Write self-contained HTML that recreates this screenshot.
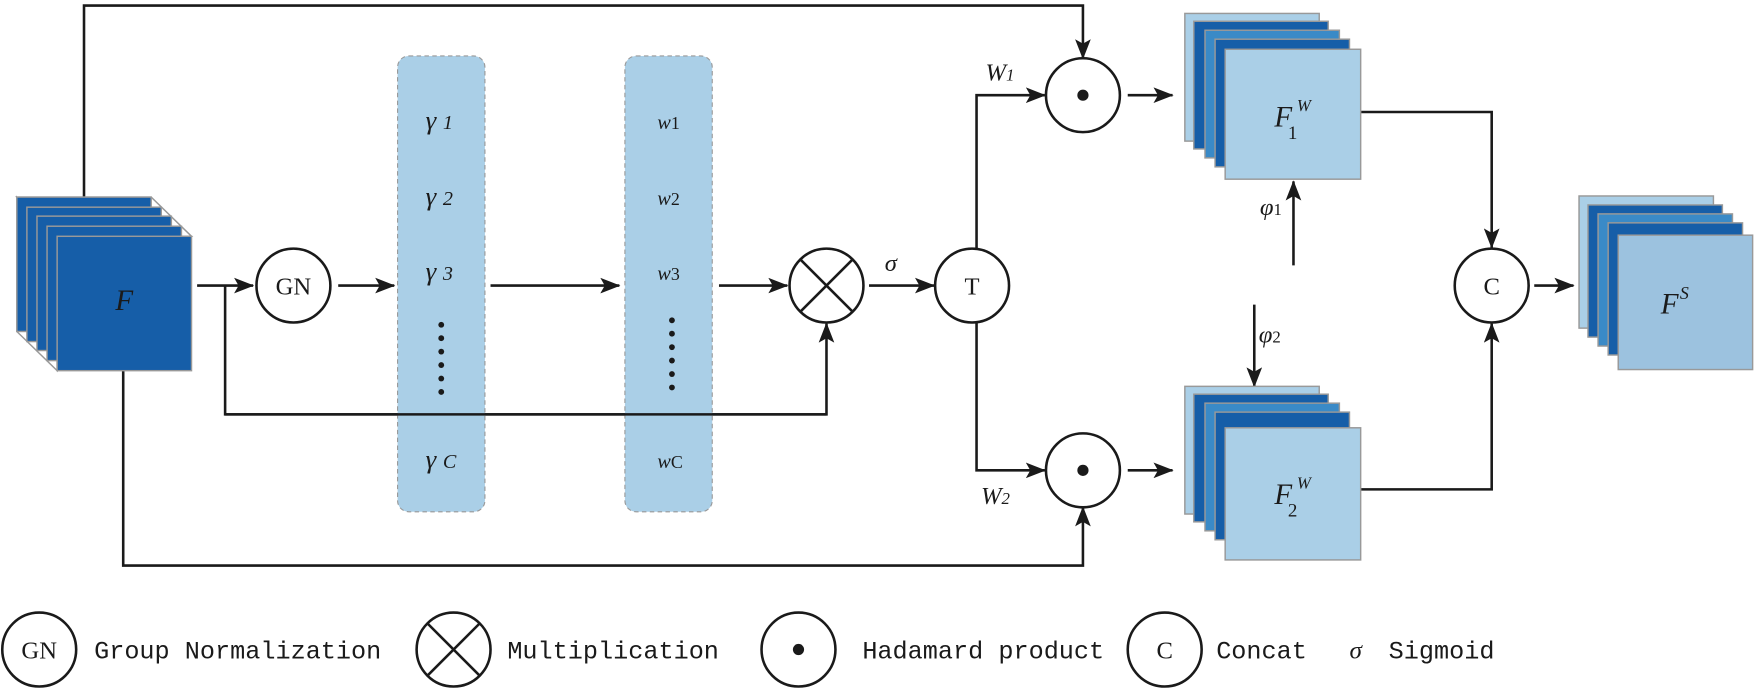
<!DOCTYPE html>
<html><head><meta charset="utf-8"><style>
html,body{margin:0;padding:0;background:#fff;width:1756px;height:696px;overflow:hidden}
svg text{font-family:"Liberation Serif",serif;fill:#1a1a1a}
.m{font-family:"Liberation Mono",monospace}
</style></head><body>
<svg width="1756" height="696" viewBox="0 0 1568 621.5" xmlns="http://www.w3.org/2000/svg">
<defs>
<marker id="a" markerWidth="18" markerHeight="14" refX="17" refY="7" orient="auto" markerUnits="userSpaceOnUse" viewBox="0 0 18 14">
<path d="M0,0 L18,7 L0,14 L4,7 z" fill="#1a1a1a"/></marker>
</defs>
<g stroke="#1a1a1a" stroke-width="2.3" fill="none">
<polyline points="75,176 75,5 967,5 967,52" marker-end="url(#a)"/>
<polyline points="110,331 110,505 967,505 967,453" marker-end="url(#a)"/>
<line x1="176" y1="255" x2="226" y2="255" marker-end="url(#a)"/>
<polyline points="201,255 201,370 738,370 738,289" marker-end="url(#a)"/>
<line x1="302" y1="255" x2="352" y2="255" marker-end="url(#a)"/>
<line x1="438" y1="255" x2="553" y2="255" marker-end="url(#a)"/>
<line x1="642" y1="255" x2="703" y2="255" marker-end="url(#a)"/>
<line x1="776" y1="255" x2="834" y2="255" marker-end="url(#a)"/>
<polyline points="872,222 872,85 933,85" marker-end="url(#a)"/>
<polyline points="872,288 872,420 933,420" marker-end="url(#a)"/>
<line x1="1007" y1="85" x2="1047" y2="85" marker-end="url(#a)"/>
<line x1="1007" y1="420" x2="1047" y2="420" marker-end="url(#a)"/>
<polyline points="1215,100 1332,100 1332,221" marker-end="url(#a)"/>
<polyline points="1215,437 1332,437 1332,289" marker-end="url(#a)"/>
<line x1="1155" y1="237" x2="1155" y2="162" marker-end="url(#a)"/>
<line x1="1120" y1="272" x2="1120" y2="345" marker-end="url(#a)"/>
<line x1="1370" y1="255" x2="1405" y2="255" marker-end="url(#a)"/>
</g>
<g stroke="#999" stroke-width="1.3">
<polygon points="15,176 135,176 171,211 51,211" fill="#fff"/>
<polygon points="15,176 51,211 51,331 15,296" fill="#fff"/>
<rect x="15" y="176" width="120" height="120" fill="#165ea8"/>
<rect x="24" y="185" width="120" height="120" fill="#165ea8"/>
<rect x="33" y="193" width="120" height="120" fill="#165ea8"/>
<rect x="42" y="202" width="120" height="120" fill="#165ea8"/>
<rect x="51" y="211" width="120" height="120" fill="#165ea8"/>
</g>
<text x="103" y="277" font-size="26" font-style="italic">F</text>
<g stroke="#999" stroke-width="1.3">
<rect x="1058" y="12" width="120" height="114" fill="#aacfe7"/>
<rect x="1066" y="19" width="120" height="114" fill="#165ea8"/>
<rect x="1076" y="27" width="120" height="114" fill="#3a8ac7"/>
<rect x="1085" y="35" width="120" height="114" fill="#165ea8"/>
<rect x="1094" y="44" width="121" height="116" fill="#aacfe7"/>
</g>
<text x="1138" y="113" font-size="26" font-style="italic">F</text>
<text x="1150" y="124" font-size="17">1</text>
<text x="1158" y="99" font-size="15" font-style="italic">W</text>
<g stroke="#999" stroke-width="1.3">
<rect x="1058" y="345" width="120" height="114" fill="#aacfe7"/>
<rect x="1066" y="352" width="120" height="114" fill="#165ea8"/>
<rect x="1076" y="360" width="120" height="114" fill="#3a8ac7"/>
<rect x="1085" y="368" width="120" height="114" fill="#165ea8"/>
<rect x="1094" y="382" width="121" height="118" fill="#aacfe7"/>
</g>
<text x="1138" y="450" font-size="26" font-style="italic">F</text>
<text x="1150" y="461" font-size="17">2</text>
<text x="1158" y="436" font-size="15" font-style="italic">W</text>
<g stroke="#999" stroke-width="1.3">
<rect x="1410" y="175" width="120" height="118" fill="#aacfe7"/>
<rect x="1418" y="183" width="120" height="118" fill="#165ea8"/>
<rect x="1427" y="191" width="120" height="118" fill="#3a8ac7"/>
<rect x="1436" y="199" width="120" height="118" fill="#165ea8"/>
<rect x="1445" y="210" width="120" height="120" fill="#9cc2df"/>
</g>
<text x="1483" y="280" font-size="26" font-style="italic">F</text>
<text x="1500" y="267" font-size="16" font-style="italic">S</text>
<rect x="355" y="50" width="78" height="407" rx="10" fill="#aacfe7" stroke="#999" stroke-dasharray="4,3"/>
<rect x="558" y="50" width="78" height="407" rx="10" fill="#aacfe7" stroke="#999" stroke-dasharray="4,3"/>
<line x1="201" y1="370" x2="738" y2="370" stroke="#1a1a1a" stroke-width="2.3"/>
<g font-size="24" font-style="italic">
<text x="380" y="115">γ <tspan font-size="18">1</tspan></text>
<text x="380" y="183">γ <tspan font-size="18">2</tspan></text>
<text x="380" y="250">γ <tspan font-size="18">3</tspan></text>
<text x="380" y="418">γ <tspan font-size="18">C</tspan></text>
<text x="587" y="115" font-size="18">w<tspan font-style="normal" font-size="16">1</tspan></text>
<text x="587" y="183" font-size="18">w<tspan font-style="normal" font-size="16">2</tspan></text>
<text x="587" y="250" font-size="18">w<tspan font-style="normal" font-size="16">3</tspan></text>
<text x="587" y="418" font-size="18">w<tspan font-style="normal" font-size="16">C</tspan></text>
</g>
<g fill="#1a1a1a">
<circle cx="394" cy="290" r="2.6"/><circle cx="394" cy="302" r="2.6"/><circle cx="394" cy="314" r="2.6"/><circle cx="394" cy="326" r="2.6"/><circle cx="394" cy="338" r="2.6"/><circle cx="394" cy="350" r="2.6"/>
<circle cx="600" cy="286" r="2.6"/><circle cx="600" cy="298" r="2.6"/><circle cx="600" cy="310" r="2.6"/><circle cx="600" cy="322" r="2.6"/><circle cx="600" cy="334" r="2.6"/><circle cx="600" cy="346" r="2.6"/>
</g>
<g stroke="#1a1a1a" stroke-width="2.3" fill="#fff">
<circle cx="262" cy="255" r="33"/>
<circle cx="738" cy="255" r="33"/>
<circle cx="868" cy="255" r="33"/>
<circle cx="967" cy="85" r="33"/>
<circle cx="967" cy="420" r="33"/>
<circle cx="1332" cy="255" r="33"/>
<circle cx="35" cy="580" r="33"/>
<circle cx="405" cy="580" r="33"/>
<circle cx="713" cy="580" r="33"/>
<circle cx="1040" cy="580" r="33"/>
<path d="M715,232 L761,278 M761,232 L715,278 M382,557 L428,603 M428,557 L382,603" fill="none"/>
</g>
<g fill="#1a1a1a"><circle cx="967" cy="85" r="5"/><circle cx="967" cy="420" r="5"/><circle cx="713" cy="580" r="5"/></g>
<g font-size="22" text-anchor="middle">
<text x="262" y="263">GN</text><text x="868" y="263">T</text><text x="1332" y="263">C</text>
<text x="35" y="588">GN</text><text x="1040" y="588">C</text>
</g>
<g font-size="22" font-style="italic">
<text x="790" y="242">σ</text>
<text x="880" y="72">W<tspan font-size="15">1</tspan></text>
<text x="876" y="450">W<tspan font-size="15">2</tspan></text>
<text x="1125" y="192">φ<tspan font-size="15" font-style="normal">1</tspan></text>
<text x="1124" y="306">φ<tspan font-size="15" font-style="normal">2</tspan></text>
</g>
<g font-size="22.5">
<text class="m" x="84" y="588">Group Normalization</text>
<text class="m" x="453" y="588">Multiplication</text>
<text class="m" x="770" y="588">Hadamard product</text>
<text class="m" x="1086" y="588">Concat</text>
<text x="1205" y="588" font-style="italic">σ</text>
<text class="m" x="1240" y="588">Sigmoid</text>
</g>
</svg>
</body></html>
